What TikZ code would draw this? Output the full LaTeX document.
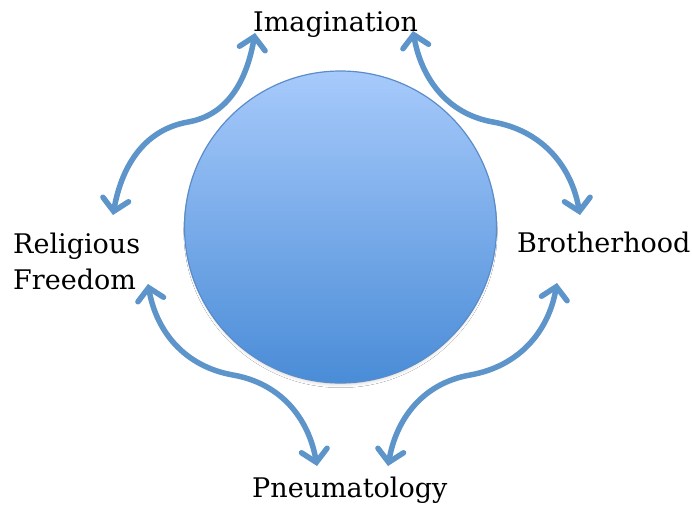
\documentclass[tikz,border=0pt]{standalone}
\usepackage{fontspec}
\setmainfont{DejaVu Serif}
\usetikzlibrary{arrows.meta,shadows.blur}
\definecolor{arrowblue}{HTML}{5D95CB}
\definecolor{circtop}{HTML}{A7CAFB}
\definecolor{circbot}{HTML}{4A8CD7}
\definecolor{circedge}{HTML}{5A8CC9}
\tikzset{
  label/.style={font=\fontsize{27}{32}\selectfont, inner sep=0pt},
  curvearrow/.style={draw=arrowblue, line width=5.5pt, line cap=round,
    {Straight Barb[length=12pt,width=26pt,line cap=round]}-{Straight Barb[length=12pt,width=26pt,line cap=round]}}
}
\begin{document}
\begin{tikzpicture}[x=1pt,y=-1pt]
\useasboundingbox (0,0) rectangle (692,504);
\fill[white] (0,0) rectangle (692,504);
% central circle
\node[circle, minimum size=312pt, inner sep=0pt, draw=circedge, line width=1.2pt,
  top color=circtop, bottom color=circbot,
  blur shadow={shadow xshift=0pt, shadow yshift=-4pt, shadow scale=0.98, shadow blur radius=4pt, shadow blur steps=8, shadow opacity=20}]
  (c) at (340.5,227) {};
% labels
\node[label, anchor=base west] (img) at (253,31) {Imagination};
\node[label, anchor=base west] (rel) at (13,253) {Religious};
\node[label, anchor=base west] (fre) at (13,289) {Freedom};
\node[label, anchor=base west] (bro) at (517,252) {Brotherhood};
\node[label, anchor=base west] (pne) at (252,497) {Pneumatology};
% arrow end points
\coordinate (a1s) at (255,33);  \coordinate (a1m) at (188,122); \coordinate (a1e) at (113,215);
\coordinate (a2s) at (413,31);  \coordinate (a2m) at (493,122); \coordinate (a2e) at (580,215);
\coordinate (a3s) at (148,284); \coordinate (a3m) at (233,375); \coordinate (a3e) at (317,466);
\coordinate (a4s) at (557,283); \coordinate (a4m) at (470,375); \coordinate (a4e) at (388,466);
\draw[curvearrow] (a1s) to[out=-100,in=10] (a1m) to[out=190,in=80] (a1e);
\draw[curvearrow] (a2s) to[out=-80,in=170] (a2m) to[out=-10,in=100] (a2e);
\draw[curvearrow] (a3s) to[out=-80,in=170] (a3m) to[out=-10,in=100] (a3e);
\draw[curvearrow] (a4s) to[out=-100,in=10] (a4m) to[out=190,in=80] (a4e);
\end{tikzpicture}
\end{document}
